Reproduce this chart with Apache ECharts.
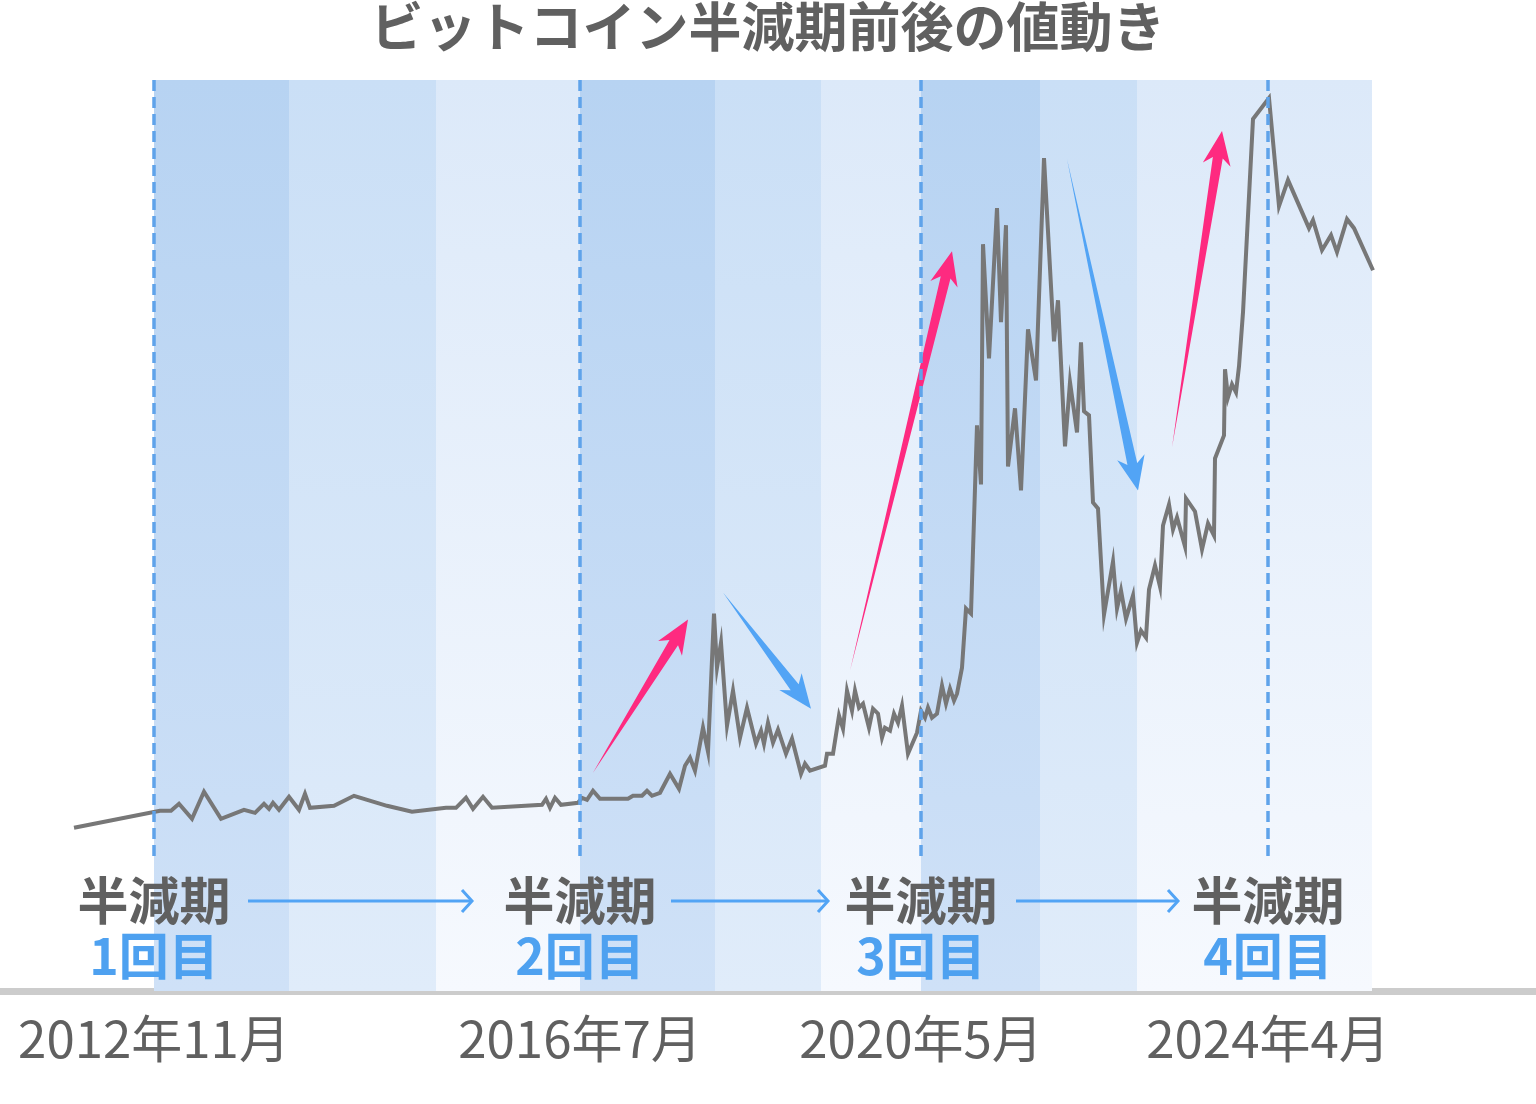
<!DOCTYPE html>
<html lang="ja">

<head>
    <meta charset="UTF-8">
    <title>ビットコイン半減期前後の値動き</title>
    <style>
        body { margin: 0; background: #fff; }
    </style>
</head>

<body>
    <div id="main" style="width:1536px;height:1104px;"></div>
    <script src="https://cdn.jsdelivr.net/npm/echarts/dist/echarts.min.js"></script>
    <script>
        var FONT = '"Noto Sans CJK JP", "Noto Sans", sans-serif';

        // 半減期の位置（横軸の値）とラベル
        var halvingX = [154, 580, 921, 1268];
        var halvingDates = ['2012年11月', '2016年7月', '2020年5月', '2024年4月'];
        var halvingNames = ['1回目', '2回目', '3回目', '4回目'];

        // 背景の帯 [開始, 終了, 濃さ]
        var bands = [
            [154, 289, 0], [289, 436, 1], [436, 580, 2],
            [580, 715, 0], [715, 821, 1], [821, 921, 2],
            [921, 1040, 0], [1040, 1137, 1], [1137, 1372, 2]
        ];
        var bandTop = ['#b7d3f2', '#cadff6', '#dce9f9'];
        var bandBottom = ['#cfe1f7', '#e0ecfa', '#f6f9fe'];

        // 価格の推移（横位置, 値）
        var priceX = [74, 160, 171, 179, 192, 204, 221, 244, 255, 264, 269, 273, 279, 289, 299, 305, 310, 334, 354, 387,
            412, 446, 456, 466, 473, 483, 492, 542, 546, 550, 555, 561, 578,
            582, 587, 593, 600, 628, 633, 642, 647, 652, 660, 670, 679, 685, 690, 695, 703, 708, 714, 717, 721, 727, 733,
            740, 747, 756, 761, 764, 768, 773, 778, 786, 792, 801, 805, 810, 825, 827, 833, 839, 843, 847, 852, 855, 859,
            863, 869, 873, 878, 882, 885, 890, 894, 898, 902, 908, 917, 921, 925, 928, 932, 937, 942, 946, 950, 954, 957,
            962, 966, 971,
            977, 981, 983, 989, 997, 1001, 1006, 1008, 1015, 1021, 1028, 1036, 1044, 1054, 1058, 1065, 1070, 1077, 1081,
            1084, 1089, 1093, 1098, 1104, 1113, 1117, 1121, 1126, 1133, 1137, 1141, 1146, 1149, 1155, 1160, 1163, 1169,
            1173, 1177, 1185, 1186, 1195, 1202, 1208, 1214, 1215, 1224, 1225, 1228, 1232, 1236, 1239, 1243, 1253, 1269,
            1279, 1288, 1309, 1313, 1322, 1331, 1337, 1347, 1354, 1373];
        var priceY = [163, 180, 180, 187, 172, 199, 172, 181, 178, 187, 182, 188, 181, 194, 181, 197, 183, 185, 195, 185,
            179, 183, 183, 193, 182, 194, 183, 186, 192, 183, 193, 186, 188,
            193, 191, 200, 192, 192, 195, 195, 200, 195, 198, 217, 202, 225, 233, 220, 263, 239, 377, 323, 348, 265, 300,
            253, 283, 247, 260, 247, 268, 248, 261, 237, 252, 217, 227, 220, 225, 237, 237, 275, 262, 300, 280, 300, 283,
            287, 263, 282, 277, 253, 263, 260, 277, 268, 285, 237, 258, 280, 273, 283, 273, 277, 305, 287, 302, 290, 297,
            323, 382, 377,
            565, 506, 746, 632, 782, 668, 765, 524, 582, 500, 661, 610, 832, 649, 690, 544, 608, 558, 648,
            579, 575, 488, 482, 376, 429, 382, 400, 372, 395, 348, 360, 353, 401, 425, 404, 465, 486,
            461, 473, 444, 492, 479, 441, 467, 455, 532, 555, 621, 593, 606, 598, 624, 678, 871, 892,
            784, 810, 762, 770, 740, 755, 738, 771, 762, 720];

        // 上昇・下落の矢印 [始点x, 始点y, 終点x, 終点y, 色]
        var trendArrows = [
            [593, 218, 688, 371, 0],
            [723, 398, 811, 282, 1],
            [850, 320, 952, 739, 0],
            [1067, 831, 1138, 500, 1],
            [1172, 543, 1222, 859, 0]
        ];
        var arrowColors = ['#fe2a80', '#52a4f5'];

        // 半減期ラベルをつなぐ矢印 [開始x, 終了x, y]
        var connectors = [
            [248, 472, 90],
            [671, 828, 90],
            [1016, 1178, 90]
        ];
        var labelRows = [90, 35];

        var priceData = [];
        for (var i = 0; i < priceX.length; i++) {
            priceData.push([priceX[i], priceY[i]]);
        }

        var bandAreas = bands.map(function (b) {
            return [{
                xAxis: b[0],
                itemStyle: {
                    color: {
                        type: 'linear', x: 0, y: 0, x2: 0, y2: 1,
                        colorStops: [
                            { offset: 0, color: bandTop[b[2]] },
                            { offset: 1, color: bandBottom[b[2]] }
                        ]
                    }
                }
            }, { xAxis: b[1] }];
        });

        var halvingLines = halvingX.map(function (x) {
            return [{ coord: [x, 910] }, { coord: [x, 130] }];
        });

        var labelData = halvingX.map(function (x, i) {
            return [x, labelRows[0], labelRows[1], i];
        });

        function renderTrend(params, api) {
            var p0 = api.coord([api.value(0), api.value(1)]);
            var p1 = api.coord([api.value(2), api.value(3)]);
            var dx = p1[0] - p0[0], dy = p1[1] - p0[1];
            var len = Math.sqrt(dx * dx + dy * dy);
            var ux = dx / len, uy = dy / len;
            var nx = -uy, ny = ux;
            var headLen = 34, headW = 14, notch = 7, shaftW = 5;
            var bx = p1[0] - ux * headLen, by = p1[1] - uy * headLen;
            var jx = p1[0] - ux * (headLen - notch), jy = p1[1] - uy * (headLen - notch);
            return {
                type: 'polygon',
                shape: {
                    points: [
                        p0,
                        [jx + nx * shaftW, jy + ny * shaftW],
                        [bx + nx * headW, by + ny * headW],
                        p1,
                        [bx - nx * headW, by - ny * headW],
                        [jx - nx * shaftW, jy - ny * shaftW]
                    ]
                },
                style: { fill: arrowColors[api.value(4)] }
            };
        }

        function renderConnector(params, api) {
            var a = api.coord([api.value(0), api.value(2)]);
            var b = api.coord([api.value(1), api.value(2)]);
            var style = { stroke: '#52a4f5', lineWidth: 3, fill: null };
            return {
                type: 'group',
                children: [{
                    type: 'line',
                    shape: { x1: a[0], y1: a[1], x2: b[0], y2: b[1] },
                    style: style
                }, {
                    type: 'polyline',
                    shape: { points: [[b[0] - 10, b[1] - 11], [b[0], b[1]], [b[0] - 10, b[1] + 11]] },
                    style: style
                }]
            };
        }

        function renderLabel(params, api) {
            var top = api.coord([api.value(0), api.value(1)]);
            var bottom = api.coord([api.value(0), api.value(2)]);
            return {
                type: 'group',
                children: [{
                    type: 'text',
                    style: {
                        text: '半減期', x: top[0], y: top[1], align: 'center', verticalAlign: 'middle',
                        fill: '#606060', fontSize: 51, fontWeight: 'bold', fontFamily: FONT
                    }
                }, {
                    type: 'text',
                    style: {
                        text: halvingNames[api.value(3)], x: bottom[0], y: bottom[1], align: 'center', verticalAlign: 'middle',
                        fill: '#4ea1f0', fontSize: 50, fontWeight: 'bold', fontFamily: FONT
                    }
                }]
            };
        }

        var myChart = echarts.init(document.getElementById('main'));

        var option = {
            animation: false,
            title: {
                text: 'ビットコイン半減期前後の値動き',
                left: 'center',
                top: 0,
                padding: 0,
                textStyle: { fontSize: 53, fontWeight: 'bold', color: '#606060', fontFamily: FONT }
            },
            grid: { left: 0, right: 0, top: 80, bottom: 113 },
            xAxis: {
                type: 'value',
                min: 0,
                max: 1536,
                splitLine: { show: false },
                axisTick: { show: false },
                axisLine: { show: true, lineStyle: { color: '#cccccc', width: 7 } },
                axisLabel: {
                    customValues: halvingX,
                    margin: 22,
                    fontSize: 51,
                    fontWeight: 'normal',
                    color: '#606060',
                    fontFamily: FONT,
                    formatter: function (value) {
                        var i = halvingX.indexOf(value);
                        return i >= 0 ? halvingDates[i] : '';
                    }
                }
            },
            yAxis: {
                type: 'value',
                min: 0,
                max: 910,
                show: false,
                splitLine: { show: false }
            },
            series: [{
                name: 'bands',
                type: 'line',
                data: [],
                z: 0,
                silent: true,
                markArea: { silent: true, data: bandAreas },
                markLine: {
                    silent: true,
                    symbol: 'none',
                    label: { show: false },
                    lineStyle: { type: [11, 6], color: '#5fa3ea', width: 3.5, opacity: 1 },
                    data: halvingLines
                }
            }, {
                name: '価格',
                type: 'line',
                data: priceData,
                z: 3,
                showSymbol: false,
                lineStyle: { color: '#777777', width: 4, join: 'miter' },
                itemStyle: { color: '#777777' }
            }, {
                type: 'custom',
                z: 4,
                silent: true,
                renderItem: renderTrend,
                encode: { x: [0, 2], y: [1, 3] },
                data: trendArrows
            }, {
                type: 'custom',
                z: 4,
                silent: true,
                renderItem: renderConnector,
                encode: { x: [0, 1], y: 2 },
                data: connectors
            }, {
                type: 'custom',
                z: 4,
                silent: true,
                renderItem: renderLabel,
                encode: { x: 0, y: [1, 2] },
                data: labelData
            }]
        };

        myChart.setOption(option);
    </script>
</body>

</html>
